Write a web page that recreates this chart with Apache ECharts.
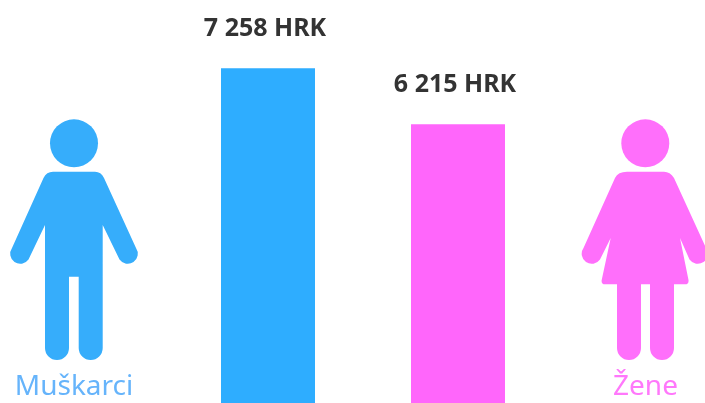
<!DOCTYPE html>
<html>
<head>
<meta charset="utf-8">
<style>
  html, body { margin: 0; padding: 0; background: #fff; overflow: hidden; }
  #chart { width: 705px; height: 403px; }
</style>
<script src="https://cdn.jsdelivr.net/npm/echarts@6/dist/echarts.min.js"></script>
</head>
<body>
<div id="chart"></div>
<script>
const categories = ['Muškarci', 'Žene']
const salaries = [7258, 6215]
const barColors = ['#2eadff', '#ff66fb']
const iconColors = ['#36adfb', '#ff6ffb']
const labelColors = ['#66b4fb', '#ff78fb']

// figure outlines, page pixels
const manPath = 'M53 171.7L95 171.7Q101 171.7 104 178L136 248A10 10 0 0 1 119.5 259.5L102.7 225L102.7 348A12 12 0 0 1 78.7 348L78.7 276.7L69 276.7L69 348A12 12 0 0 1 45 348L45 225L28.5 259.5A10 10 0 0 1 12 248L43.5 178Q46.5 171.7 53 171.7Z'
const womanPath = 'M627 171.7L664 171.7Q670 171.7 674 178L706 248A10 10 0 0 1 689.5 259.5L680 238L688.5 280Q689 284.3 685 284.3L674 284.3L674 348A12 12 0 0 1 650 348L650 284.3L641 284.3L641 348A12 12 0 0 1 617 348L617 284.3L605 284.3Q601 284.3 601.7 280L610.7 238L600 259.5A10 10 0 0 1 583.5 248L615 178Q618 171.7 627 171.7Z'

echarts.graphic.registerShape('manFigure', echarts.graphic.extendPath(manPath))
echarts.graphic.registerShape('womanFigure', echarts.graphic.extendPath(womanPath))

const chart = echarts.init(document.getElementById('chart'))

chart.setOption({
  animation: false,
  // the baseline sits below the visible area, the bars get cut off at the bottom
  grid: { left: 173, width: 380, top: 28.5, height: 429.5, outerBoundsMode: 'none' },
  xAxis: {
    type: 'category',
    data: categories,
    show: false
  },
  yAxis: {
    type: 'value',
    min: 0,
    max: 8000,
    show: false
  },
  series: [
    {
      type: 'bar',
      barWidth: 94,
      data: salaries.map((v, i) => ({ value: v, itemStyle: { color: barColors[i] } })),
      label: {
        show: true,
        position: 'top',
        distance: 27,
        offset: [-3, 0],
        formatter: p => String(p.value).replace(/(\d)(\d{3})$/, '$1 $2') + ' HRK',
        fontFamily: 'Noto Sans',
        fontWeight: 700,
        fontSize: 25,
        color: '#333333'
      }
    }
  ],
  graphic: [
    { type: 'circle', shape: { cx: 74, cy: 143.3, r: 24 }, style: { fill: iconColors[0] } },
    { type: 'manFigure', style: { fill: iconColors[0] } },
    { type: 'circle', shape: { cx: 645.3, cy: 143.3, r: 24 }, style: { fill: iconColors[1] } },
    { type: 'womanFigure', style: { fill: iconColors[1] } },
    {
      type: 'text',
      x: 74,
      y: 387,
      style: {
        text: categories[0],
        fill: labelColors[0],
        font: '400 28px "Noto Sans"',
        textAlign: 'center',
        textVerticalAlign: 'middle'
      }
    },
    {
      type: 'text',
      x: 645.5,
      y: 387,
      style: {
        text: categories[1],
        fill: labelColors[1],
        font: '400 28px "Noto Sans"',
        textAlign: 'center',
        textVerticalAlign: 'middle'
      }
    }
  ]
})
</script>
</body>
</html>
